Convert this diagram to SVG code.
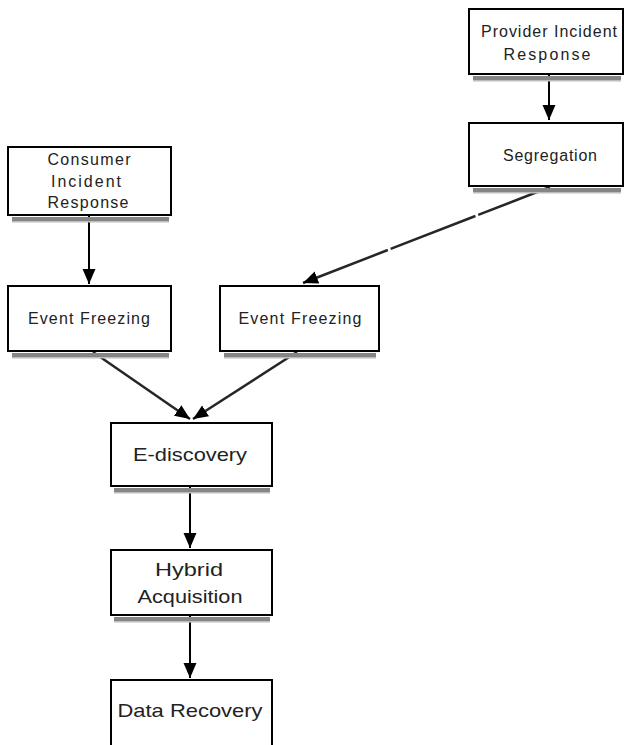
<svg xmlns="http://www.w3.org/2000/svg" width="625" height="745" viewBox="0 0 625 745">
  <style>
    .box { fill: #ffffff; stroke: #000000; stroke-width: 2; }
    .shadow { fill: #858585; }
    .shadow2 { fill: #bdbdbd; }
    .t { font-family: "Liberation Sans", Arial, Helvetica, sans-serif; font-size: 16px; fill: #222222; text-anchor: middle; }
    .tl { font-family: "Liberation Sans", Arial, Helvetica, sans-serif; font-size: 19px; fill: #222222; text-anchor: middle; }
    .edge { fill: none; stroke: #000000; stroke-width: 2; }
    .diag { fill: none; stroke: #262626; stroke-width: 2.5; }
  </style>
  <defs>
    <marker id="arrow" markerUnits="userSpaceOnUse" markerWidth="16" markerHeight="14" refX="15" refY="6.5" orient="auto">
      <path d="M0,0 L15,6.5 L0,13 Z" fill="#000000"/>
    </marker>
  </defs>
  <rect width="625" height="745" fill="#ffffff"/>

  <g id="connectors">
    <line class="edge" x1="549" y1="75" x2="549" y2="120" marker-end="url(#arrow)"/>
    <line class="edge" x1="89" y1="216" x2="89" y2="284" marker-end="url(#arrow)"/>
    <line class="diag" x1="550" y1="187" x2="303" y2="283" stroke-dasharray="77 3 91 3 200" marker-end="url(#arrow)"/>
    <line class="diag" x1="93" y1="352" x2="190" y2="419" marker-end="url(#arrow)"/>
    <line class="diag" x1="297" y1="352" x2="193" y2="419" marker-end="url(#arrow)"/>
    <line class="edge" x1="190" y1="487" x2="190" y2="548" marker-end="url(#arrow)"/>
    <line class="edge" x1="190" y1="616" x2="190" y2="678" marker-end="url(#arrow)"/>
  </g>

  <g id="provider-incident-response">
    <rect class="shadow" x="473" y="76" width="148" height="4"/>
    <rect class="shadow2" x="473" y="80" width="148" height="1.5"/>
    <rect class="box" x="469" y="9" width="154" height="65"/>
    <text class="t" x="549" y="37" textLength="136" lengthAdjust="spacing">Provider Incident</text>
    <text class="t" x="547" y="60" textLength="87" lengthAdjust="spacing">Response</text>
  </g>

  <g id="segregation">
    <rect class="shadow" x="473" y="188" width="148" height="4"/>
    <rect class="shadow2" x="473" y="192" width="148" height="1.5"/>
    <rect class="box" x="469" y="123" width="154" height="63"/>
    <text class="t" x="550" y="161" textLength="94" lengthAdjust="spacing">Segregation</text>
  </g>

  <g id="consumer-incident-response">
    <rect class="shadow" x="12" y="217" width="157" height="4"/>
    <rect class="shadow2" x="12" y="221" width="157" height="1.5"/>
    <rect class="box" x="8" y="147" width="163" height="68"/>
    <text class="t" x="89" y="165" textLength="83" lengthAdjust="spacing">Consumer</text>
    <text class="t" x="86" y="187" textLength="70" lengthAdjust="spacing">Incident</text>
    <text class="t" x="88" y="208" textLength="81" lengthAdjust="spacing">Response</text>
  </g>

  <g id="event-freezing-1">
    <rect class="shadow" x="12" y="353" width="157" height="4"/>
    <rect class="shadow2" x="12" y="357" width="157" height="1.5"/>
    <rect class="box" x="8" y="286" width="163" height="65"/>
    <text class="t" x="89" y="324" textLength="122" lengthAdjust="spacing">Event Freezing</text>
  </g>

  <g id="event-freezing-2">
    <rect class="shadow" x="224" y="353" width="152" height="4"/>
    <rect class="shadow2" x="224" y="357" width="152" height="1.5"/>
    <rect class="box" x="220" y="286" width="159" height="65"/>
    <text class="t" x="300" y="324" textLength="123" lengthAdjust="spacing">Event Freezing</text>
  </g>

  <g id="e-discovery">
    <rect class="shadow" x="114" y="488" width="156" height="4"/>
    <rect class="shadow2" x="114" y="492" width="156" height="1.5"/>
    <rect class="box" x="111" y="423" width="161" height="63"/>
    <text class="tl" x="190" y="461" textLength="114" lengthAdjust="spacingAndGlyphs">E-discovery</text>
  </g>

  <g id="hybrid-acquisition">
    <rect class="shadow" x="114" y="617" width="156" height="4"/>
    <rect class="shadow2" x="114" y="621" width="156" height="1.5"/>
    <rect class="box" x="111" y="550" width="161" height="65"/>
    <text class="tl" x="189" y="576" textLength="68" lengthAdjust="spacingAndGlyphs">Hybrid</text>
    <text class="tl" x="190" y="603" textLength="105" lengthAdjust="spacingAndGlyphs">Acquisition</text>
  </g>

  <g id="data-recovery">
    <rect class="box" x="111" y="680" width="161" height="80"/>
    <text class="tl" x="190" y="717" textLength="145" lengthAdjust="spacingAndGlyphs">Data Recovery</text>
  </g>
</svg>
